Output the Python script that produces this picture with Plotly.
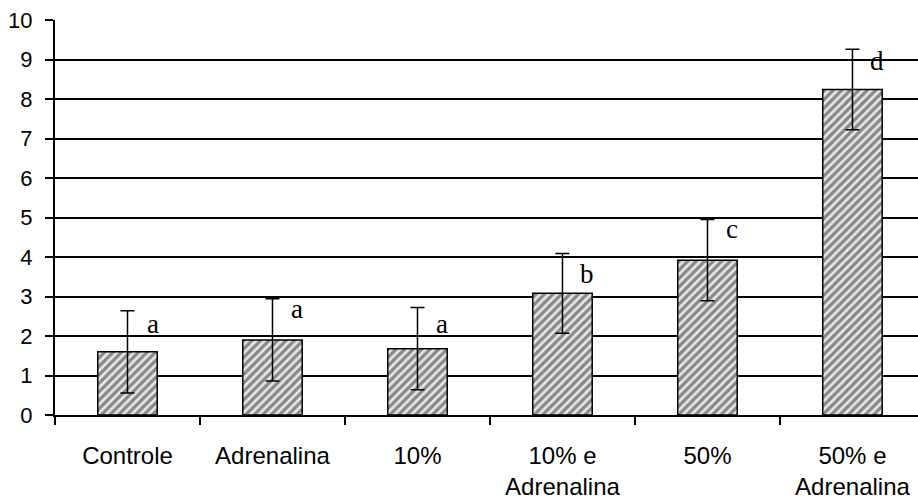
import plotly.graph_objects as go

categories = ["Controle", "Adrenalina", "10%", "10% e<br>Adrenalina", "50%", "50% e<br>Adrenalina"]
values = [1.60, 1.90, 1.68, 3.08, 3.92, 8.24]
errors = [1.04, 1.04, 1.04, 1.01, 1.03, 1.02]
letters = ["a", "a", "a", "b", "c", "d"]
letter_y = [2.30, 2.68, 2.30, 3.58, 4.72, 8.97]
y_ticks = list(range(0, 11))

fig = go.Figure()
fig.add_trace(go.Bar(
    x=categories, y=values, width=0.41,
    marker=dict(
        color="#d0d0d0",
        line=dict(color="black", width=1.5),
        pattern=dict(shape="/", fgcolor="#2a2a2a", bgcolor="#e8e8e8", size=6, solidity=0.55),
    ),
    error_y=dict(type="data", array=errors, visible=True, color="black", thickness=1.5, width=7),
))

for c, l, ly in zip(categories, letters, letter_y):
    fig.add_annotation(x=c, y=ly, text=l, showarrow=False, xshift=25, yanchor="middle",
                       font=dict(family="Liberation Serif", size=27, color="black"))

fig.update_layout(
    width=918, height=499,
    margin=dict(l=55, r=0, t=20, b=84),
    plot_bgcolor="white", paper_bgcolor="white",
    showlegend=False,
    font=dict(family="Liberation Sans", color="black"),
    xaxis=dict(
        type="category", range=[-0.5, 5.452], automargin=False,
        tickson="boundaries", ticks="outside", ticklen=8, tickwidth=2, tickcolor="black",
        showline=True, linecolor="black", linewidth=2,
        showgrid=False, tickfont=dict(size=24), ticklabelstandoff=18,
    ),
    yaxis=dict(
        range=[0, 10], tickvals=y_ticks, ticks="outside", ticklen=8, tickwidth=2, tickcolor="black",
        showline=True, linecolor="black", linewidth=2, automargin=False,
        showgrid=True, gridcolor="black", gridwidth=1.5, zeroline=False,
        tickfont=dict(size=22), ticklabelstandoff=8,
    ),
)

fig.write_html(
    "out.html",
    config={"displayModeBar": False},
    post_script="document.body.style.margin='0';document.body.style.overflow='hidden';",
)
